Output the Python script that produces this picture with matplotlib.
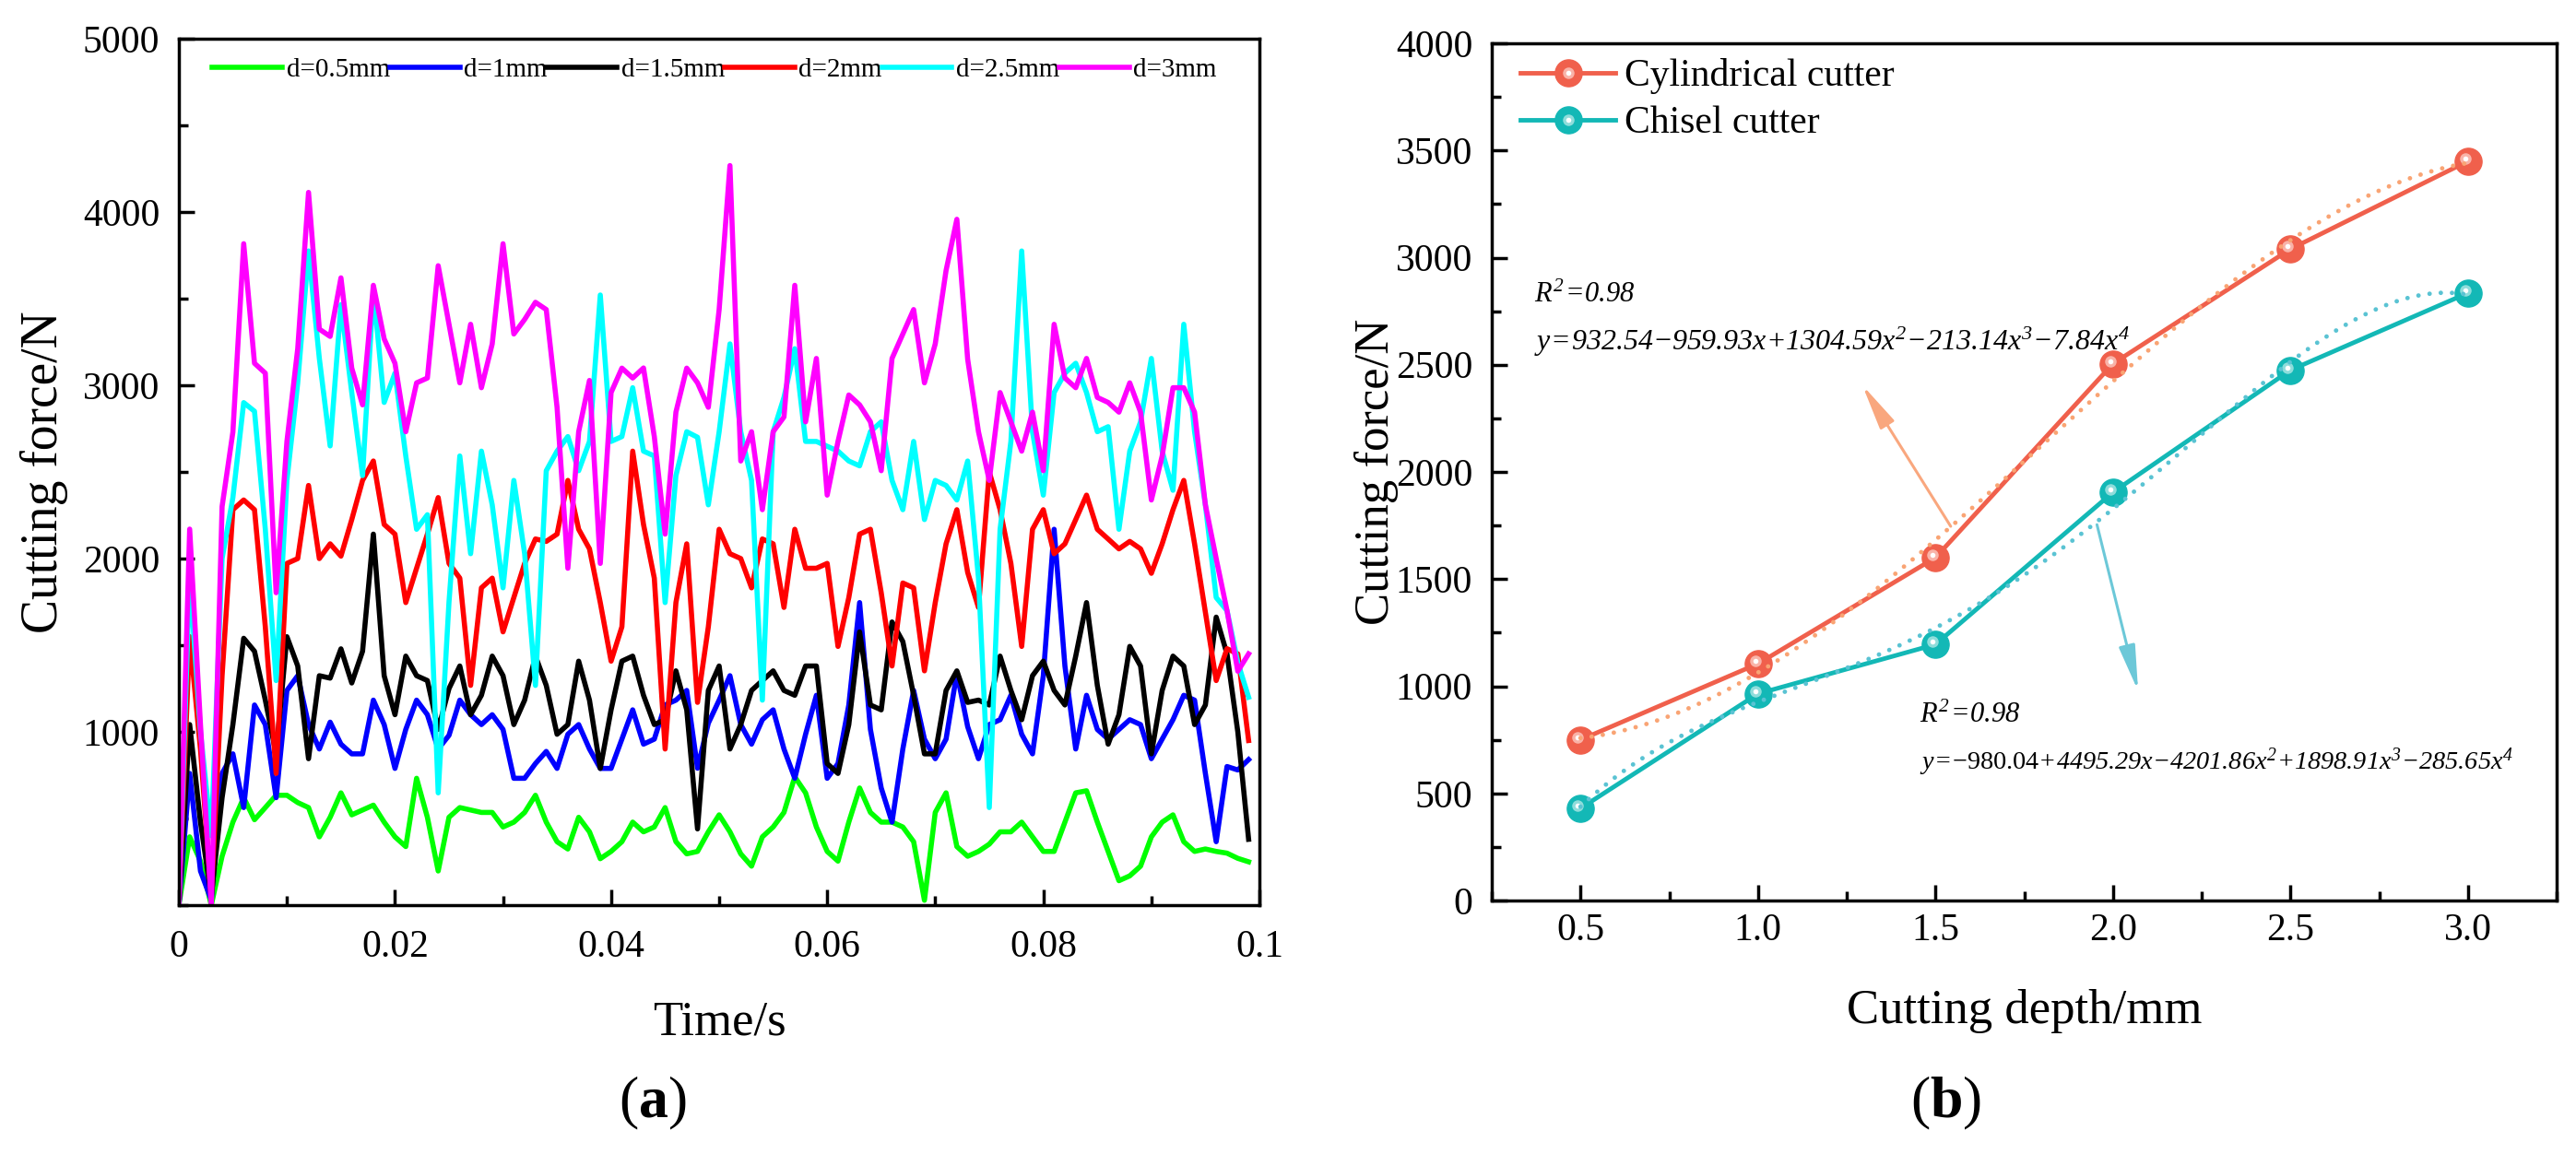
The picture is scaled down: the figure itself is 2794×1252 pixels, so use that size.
import numpy as np
import matplotlib
matplotlib.use("Agg")
import matplotlib.pyplot as plt
import matplotlib.transforms as mtransforms
from matplotlib.legend_handler import HandlerTuple
from matplotlib.ticker import MultipleLocator

plt.rcParams.update({
    "font.family": ["Liberation Serif", "DejaVu Serif"],
    "mathtext.fontset": "custom",
    "mathtext.rm": "Liberation Serif:italic",
    "mathtext.it": "Liberation Serif:italic",
    "mathtext.sf": "Liberation Serif",
    "mathtext.bf": "Liberation Serif:bold",
    "axes.linewidth": 2.5,
})

# ---- panel (a): cutting force vs time, one sample per ms ----
time_s = np.arange(100) * 0.001

force_d05 = [0, 394, 254, 0, 282, 479, 620, 493, 563, 634, 634, 592, 563, 394, 507, 648, 521, 549, 577, 479,
             394, 338, 732, 507, 197, 507, 563, 549, 535, 535, 451, 479, 535, 634, 479, 366, 324, 507, 423, 268,
             310, 366, 479, 423, 451, 563, 366, 296, 310, 423, 521, 423, 296, 225, 394, 451, 535, 740, 648, 451,
             310, 254, 479, 676, 535, 479, 479, 451, 366, 28, 535, 648, 338, 282, 310, 352, 423, 423, 479, 394,
             310, 310, 479, 648, 660, 479, 310, 141, 169, 225, 394, 479, 521, 366, 310, 324, 310, 300, 270, 250]
force_d1 = [0, 760, 197, 30, 760, 873, 563, 1155, 1042, 620, 1239, 1324, 1042, 901, 1056, 929, 873, 873, 1183, 1042,
            789, 1014, 1183, 1099, 901, 980, 1183, 1099, 1042, 1099, 1014, 732, 732, 817, 887, 789, 986, 1042, 901, 789,
            789, 958, 1127, 929, 958, 1155, 1183, 1239, 790, 1050, 1183, 1324, 1042, 929, 1070, 1127, 901, 732, 986, 1211,
            732, 817, 1155, 1746, 1014, 676, 479, 901, 1239, 958, 845, 958, 1340, 1030, 845, 1042, 1070, 1211, 986, 873,
            1324, 2169, 1380, 901, 1211, 1014, 958, 1014, 1070, 1042, 845, 958, 1070, 1211, 1183, 760, 366, 800, 780, 840]
force_d15 = [0, 1042, 479, 50, 620, 1042, 1540, 1465, 1183, 873, 1549, 1380, 845, 1324, 1310, 1479, 1282, 1465, 2141, 1324,
             1099, 1437, 1324, 1296, 1014, 1250, 1380, 1099, 1211, 1437, 1324, 1042, 1183, 1437, 1268, 986, 1042, 1408, 1183, 789,
             1127, 1408, 1437, 1211, 1042, 1070, 1352, 1127, 440, 1239, 1380, 901, 1042, 1239, 1296, 1352, 1239, 1211, 1380, 1380,
             817, 760, 1042, 1577, 1155, 1127, 1634, 1521, 1211, 873, 873, 1239, 1352, 1170, 1183, 1155, 1437, 1239, 1070, 1324,
             1408, 1239, 1155, 1437, 1746, 1268, 929, 1099, 1493, 1380, 873, 1239, 1437, 1380, 1042, 1155, 1662, 1450, 1000, 380]
force_d2 = [0, 1550, 900, 50, 1324, 2282, 2338, 2282, 1606, 760, 1972, 2000, 2422, 2000, 2085, 2014, 2225, 2451, 2563, 2197,
            2141, 1746, 1944, 2141, 2352, 1972, 1887, 1268, 1831, 1887, 1577, 1775, 1972, 2113, 2099, 2141, 2451, 2169, 2056, 1746,
            1408, 1606, 2620, 2197, 1887, 901, 1746, 2085, 1170, 1606, 2169, 2028, 2000, 1831, 2113, 2085, 1718, 2169, 1944, 1944,
            1972, 1493, 1775, 2141, 2169, 1803, 1380, 1859, 1831, 1352, 1746, 2085, 2282, 1920, 1718, 2500, 2282, 1972, 1493, 2169,
            2282, 2028, 2085, 2225, 2366, 2169, 2113, 2056, 2099, 2056, 1915, 2085, 2282, 2451, 2085, 1690, 1296, 1480, 1450, 950]
force_d25 = [0, 1900, 1000, 400, 2000, 2352, 2900, 2850, 2169, 1296, 2450, 3014, 3775, 3155, 2650, 3465, 2958, 2479, 3549, 2901,
             3070, 2592, 2169, 2253, 648, 1750, 2592, 2028, 2620, 2310, 1831, 2451, 2028, 1268, 2507, 2620, 2704, 2507, 2676, 3521,
             2676, 2704, 2986, 2620, 2592, 1746, 2479, 2732, 2700, 2310, 2732, 3239, 2732, 2451, 1183, 2732, 2930, 3211, 2676, 2676,
             2648, 2620, 2563, 2535, 2732, 2789, 2451, 2282, 2676, 2225, 2451, 2422, 2338, 2563, 1887, 563, 2169, 2676, 3775, 2732,
             2366, 2958, 3070, 3127, 2958, 2732, 2761, 2169, 2620, 2789, 3155, 2620, 2394, 3352, 2732, 2310, 1775, 1700, 1400, 1200]
force_d3 = [0, 2170, 1042, 0, 2300, 2730, 3817, 3127, 3070, 1803, 2676, 3211, 4113, 3324, 3282, 3620, 3099, 2887, 3577, 3268,
            3127, 2732, 3014, 3042, 3690, 3352, 3014, 3352, 2986, 3239, 3817, 3296, 3380, 3479, 3437, 2873, 1944, 2732, 3028, 1972,
            2958, 3099, 3042, 3100, 2704, 2141, 2845, 3099, 3014, 2873, 3437, 4268, 2563, 2732, 2282, 2732, 2817, 3577, 2789, 3155,
            2366, 2676, 2944, 2887, 2789, 2507, 3155, 3296, 3437, 3014, 3239, 3662, 3958, 3150, 2732, 2451, 2958, 2789, 2620, 2845,
            2507, 3352, 3042, 2986, 3155, 2930, 2901, 2845, 3014, 2845, 2338, 2592, 2986, 2986, 2845, 2310, 2000, 1700, 1350, 1450]

series_a = [force_d05, force_d1, force_d15, force_d2, force_d25, force_d3]
labels_a = ["d=0.5mm", "d=1mm", "d=1.5mm", "d=2mm", "d=2.5mm", "d=3mm"]
colors_a = ["#00FF00", "#0000FF", "#000000", "#FF0000", "#00FFFF", "#FF00FF"]

# ---- panel (b): mean cutting force vs depth ----
depth_mm = [0.5, 1.0, 1.5, 2.0, 2.5, 3.0]
force_cyl = [750, 1105, 1600, 2505, 3040, 3450]
force_chisel = [430, 965, 1195, 1905, 2475, 2835]

fig = plt.figure(figsize=(27.94, 12.52), dpi=100)
W, H = 2794, 1252
ax1 = fig.add_axes([194 / W, 1 - 982 / H, (1366 - 194) / W, (982 - 42) / H])
ax2 = fig.add_axes([1618 / W, 1 - 977 / H, (2773 - 1618) / W, (977 - 47) / H])

# ---------------- (a) ----------------
for vals, lab, col in zip(series_a, labels_a, colors_a):
    ax1.plot(time_s, vals, color=col, lw=4, label=lab, solid_joinstyle="round")
ax1.set_xlim(0, 0.1)
ax1.set_ylim(0, 5000)
ax1.set_xticks([0, 0.02, 0.04, 0.06, 0.08, 0.1])
ax1.set_xticklabels(["0", "0.02", "0.04", "0.06", "0.08", "0.1"])
ax1.xaxis.set_minor_locator(MultipleLocator(0.01))
ax1.set_yticks([1000, 2000, 3000, 4000, 5000])
ax1.yaxis.set_minor_locator(MultipleLocator(500))
ax1.tick_params(which="both", direction="in", width=2.5, labelsize=30, top=False, right=False)
ax1.tick_params(which="major", length=12)
ax1.tick_params(which="minor", length=7)
ax1.tick_params(axis="x", pad=19)
ax1.tick_params(axis="y", pad=15)
ax1.set_xlabel("Time/s", fontsize=38)
ax1.set_ylabel("Cutting force/N", fontsize=40)
ax1.xaxis.label.set_verticalalignment("center")
ax1.yaxis.label.set_verticalalignment("center")
ax1.xaxis.set_label_coords(0.5, -0.136)
ax1.yaxis.set_label_coords(-0.1246, 0.5)
ax1.legend(loc="center left", bbox_to_anchor=(0.031, 0.964), ncol=6, frameon=False,
           fontsize=21, handlelength=2.6, handletextpad=0.15, columnspacing=0.0,
           borderpad=0, borderaxespad=0)

# ---------------- (b) ----------------
c_cyl, c_chi = "#F0604C", "#13B8B6"
c_cyl_fit, c_chi_fit = "#F9A474", "#5AC3D3"
light_cyl, light_chi = "#F9B3A8", "#8EDDDB"

offset = mtransforms.ScaledTranslation(-2 / 72, 2 / 72, fig.dpi_scale_trans)
handles = []
for vals, col, light, fitcol in [(force_cyl, c_cyl, light_cyl, c_cyl_fit),
                                 (force_chisel, c_chi, light_chi, c_chi_fit)]:
    ln, = ax2.plot(depth_mm, vals, "-", color=col, lw=3.5, marker="o", ms=21,
                   mec=col, zorder=3)
    h1, = ax2.plot(depth_mm, vals, ls="none", marker="o", ms=9, color=light, mec="none",
                   zorder=4, transform=ax2.transData + offset)
    h2, = ax2.plot(depth_mm, vals, ls="none", marker="o", ms=4, color="white", mec="none",
                   zorder=5, transform=ax2.transData + offset)
    # 4th-order polynomial trend line
    coef = np.polyfit(depth_mm, vals, 4)
    xs = np.linspace(depth_mm[0], depth_mm[-1], 200)
    ax2.plot(xs, np.polyval(coef, xs), ls=(0, (0.01, 2.5)), lw=3.5, color=fitcol,
             dash_capstyle="round", zorder=6)
    handles.append((ln, h1, h2))

ax2.set_xlim(0.25, 3.25)
ax2.set_ylim(0, 4000)
ax2.set_xticks(depth_mm)
ax2.set_xticklabels([f"{d:.1f}" for d in depth_mm])
ax2.xaxis.set_minor_locator(MultipleLocator(0.25))
ax2.set_yticks(np.arange(0, 4001, 500))
ax2.yaxis.set_minor_locator(MultipleLocator(250))
ax2.tick_params(which="both", direction="in", width=2.5, labelsize=30, top=False, right=False)
ax2.tick_params(which="major", length=12)
ax2.tick_params(which="minor", length=7)
ax2.tick_params(axis="x", pad=10)
ax2.tick_params(axis="y", pad=15)
ax2.set_xlabel("Cutting depth/mm", fontsize=38)
ax2.set_ylabel("Cutting force/N", fontsize=38)
ax2.xaxis.label.set_verticalalignment("center")
ax2.yaxis.label.set_verticalalignment("center")
ax2.xaxis.set_label_coords(0.5, -0.129)
ax2.yaxis.set_label_coords(-0.108, 0.5)
ax2.legend(handles, ["Cylindrical cutter", "Chisel cutter"], handler_map={tuple: HandlerTuple(ndivide=1)},
           loc="center left", bbox_to_anchor=(0.027, 0.934), frameon=False, fontsize=30,
           handlelength=2.47, handletextpad=0.24, labelspacing=0.3, numpoints=1,
           borderpad=0, borderaxespad=0)

eq_cyl = r"$y\!=\!932.54{-}959.93x{+}1304.59x^2{-}213.14x^3{-}7.84x^4$"
eq_chi = r"$y\!=\!\mathsf{{-}980.04}{+}4495.29x{-}4201.86x^2{+}1898.91x^3{-}285.65x^4$"
ax2.text(0.369, 2823, r"$R^2\!=\!0.98$", fontsize=22, va="center", ha="left")
ax2.text(0.369, 2608, eq_cyl, fontsize=23, va="center", ha="left")
ax2.text(1.455, 862, r"$R^2\!=\!0.98$", fontsize=22, va="center", ha="left")
ax2.text(1.455, 647, eq_chi, fontsize=20.3, va="center", ha="left")

ax2.annotate("", xy=(1.294, 2405), xytext=(1.543, 1746),
             arrowprops=dict(arrowstyle="-|>,head_length=1.0,head_width=0.18", color="#F9A77E",
                             lw=2.2, mutation_scale=30, shrinkA=0, shrinkB=0))
ax2.annotate("", xy=(2.071, 978), xytext=(1.955, 1754),
             arrowprops=dict(arrowstyle="-|>,head_length=1.0,head_width=0.18", color="#6CC8D8",
                             lw=2.2, mutation_scale=30, shrinkA=0, shrinkB=0))

fig.text(708 / W, 1 - 1197 / H, r"($\mathbf{a}$)", fontsize=46, ha="center", va="center")
fig.text(2111 / W, 1 - 1197 / H, r"($\mathbf{b}$)", fontsize=46, ha="center", va="center")

fig.savefig("out.png", dpi=100)
